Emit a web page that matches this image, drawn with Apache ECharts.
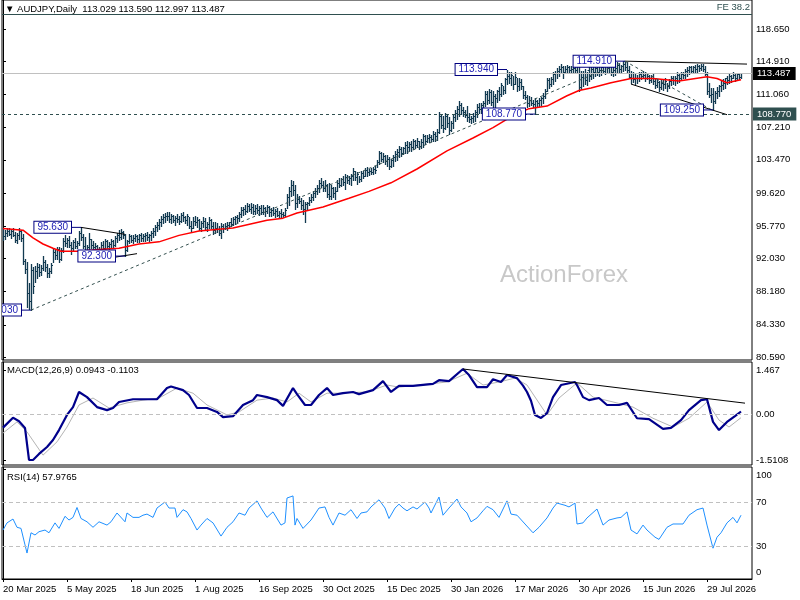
<!DOCTYPE html>
<html>
<head>
<meta charset="utf-8">
<title>AUDJPY Daily</title>
<script src="https://cdn.jsdelivr.net/npm/echarts@6.0.0/dist/echarts.min.js"></script>
<style>
  html, body { margin: 0; padding: 0; background: #fff; }
  #chart { width: 800px; height: 600px; }
</style>
</head>
<body>
<div id="chart"></div>
<script>
// daily bars, index 0 = 20 Mar 2025 (two pixels per bar in the original)
var high = [
  95.6,95.3,95.5,95.6,95.4,95.5,95.1,95.0,95.6,95.3,
  94.9,92.0,91.6,89.2,91.4,91.0,91.2,91.5,91.4,91.3,
  92.3,91.9,91.4,90.9,91.5,93.2,93.0,93.4,93.3,93.2,
  94.4,94.7,94.4,94.6,93.9,94.2,94.4,94.0,95.2,95.63,
  94.9,94.5,93.6,95.0,94.3,94.1,93.8,93.6,93.3,93.9,
  94.0,94.3,94.2,93.9,94.3,94.2,94.6,95.0,95.3,95.4,
  95.2,94.9,94.2,94.9,94.8,94.7,94.9,94.8,94.9,95.0,
  94.9,95.0,95.1,94.9,95.2,95.5,95.9,96.2,96.6,96.9,
  97.2,97.3,97.4,97.4,97.2,97.1,97.0,97.2,97.0,97.3,
  97.4,97.0,97.2,96.8,96.4,96.8,97.0,96.8,96.6,96.4,
  96.8,96.7,96.3,96.8,96.6,96.2,96.3,96.1,95.8,96.1,
  96.0,96.1,96.2,96.3,96.7,96.8,97.0,97.1,97.4,98.0,
  98.0,98.2,98.4,98.3,98.4,98.3,98.2,98.3,98.1,98.2,
  98.2,98.0,98.2,98.1,97.9,98.0,97.8,97.9,97.5,97.8,
  97.4,97.9,99.5,100.3,101.07,101.0,100.5,99.5,99.3,99.0,
  98.75,98.6,98.6,99.1,99.5,99.9,100.2,100.5,101.07,101.3,
  101.0,101.1,100.7,100.8,100.6,100.3,100.3,101.07,101.4,101.4,
  101.64,101.8,101.7,101.6,101.8,102.54,102.2,102.0,101.6,102.2,
  102.2,102.5,102.6,102.4,102.5,102.6,102.8,103.4,104.5,104.4,
  104.2,104.0,104.0,103.8,103.6,104.0,104.5,104.7,105.1,105.0,
  105.0,105.5,105.7,105.5,105.6,105.9,105.8,106.0,105.7,105.9,
  106.5,106.3,106.3,106.5,106.4,106.85,106.7,107.0,109.0,108.7,
  108.5,108.9,108.7,108.4,108.0,108.7,109.2,109.7,110.3,110.1,
  109.6,109.3,109.7,108.9,108.5,108.9,109.3,109.9,110.1,110.1,
  110.3,111.5,111.4,111.7,111.6,111.5,111.1,111.6,111.9,112.4,
  112.0,113.0,113.94,113.7,113.6,113.2,113.6,113.0,112.9,112.8,
  112.0,111.4,111.0,110.9,110.8,110.4,110.6,110.4,110.6,110.8,
  111.2,111.7,112.9,113.0,113.1,113.7,113.8,114.1,114.4,114.6,
  114.4,114.4,114.5,114.4,114.3,114.4,114.5,114.7,114.6,113.8,
  113.8,114.0,113.6,114.2,114.2,114.4,114.4,114.6,114.2,114.4,
  114.6,114.5,114.8,114.85,114.6,114.4,114.3,114.8,114.6,114.5,
  114.9,114.91,114.8,114.4,113.8,113.6,113.4,113.3,113.6,113.6,
  113.8,113.6,113.5,113.3,113.3,113.4,113.0,112.8,112.6,112.8,
  112.7,112.9,112.4,112.8,113.2,113.2,113.2,113.6,113.5,113.6,
  113.6,114.0,114.2,114.4,114.3,114.4,114.5,114.6,114.5,114.6,
  114.6,114.4,113.6,112.4,111.8,111.8,111.5,111.9,112.2,112.6,
  112.8,113.0,113.2,113.4,113.3,113.6,113.4,113.5,113.5,113.59
];
var low = [
  94.2,94.3,94.6,94.7,94.4,94.6,93.9,93.8,94.3,94.0,
  91.4,90.3,86.4,86.2,86.03,88.0,89.3,89.8,90.0,90.1,
  90.7,90.6,89.9,89.9,90.3,91.6,92.0,92.0,91.6,91.9,
  92.8,93.5,93.3,93.3,92.5,93.0,93.2,93.2,93.6,94.2,
  93.2,92.4,92.5,93.1,93.2,92.9,92.6,92.1,92.5,92.6,
  92.9,93.0,93.2,92.8,93.4,93.3,93.5,93.9,94.2,94.3,
  94.4,92.3,92.9,93.8,93.9,93.8,94.0,93.9,93.9,94.1,
  94.0,94.1,94.2,94.0,94.2,94.5,94.8,95.2,95.4,95.8,
  96.1,96.3,96.5,96.2,96.1,96.3,95.9,96.2,96.0,96.2,
  96.4,96.1,95.9,95.5,95.2,95.6,95.9,95.7,95.3,95.2,
  95.7,95.4,95.2,95.6,95.5,94.9,95.0,95.1,94.7,94.4,
  95.1,95.4,95.3,95.6,95.8,95.9,96.05,96.2,96.4,96.8,
  97.1,97.2,97.4,97.5,97.3,97.2,97.2,97.3,97.1,97.2,
  97.2,97.0,97.3,97.0,96.9,97.1,96.8,97.0,96.7,96.8,
  96.8,96.9,97.9,98.2,99.3,99.4,97.8,98.0,98.4,97.8,
  97.2,96.2,97.7,98.2,98.6,98.75,99.2,99.5,99.7,100.3,
  99.9,99.9,99.1,98.9,98.9,99.2,98.95,99.9,100.3,100.4,
  100.5,100.1,100.8,100.7,100.5,101.07,101.1,100.7,100.9,101.0,
  101.3,101.6,101.6,101.7,101.8,101.8,101.9,102.6,103.0,103.3,
  103.2,103.0,102.7,102.4,102.6,102.8,103.3,103.4,103.8,103.9,
  104.1,104.2,104.3,104.6,104.5,104.7,104.8,104.9,104.7,104.8,
  104.9,105.3,105.5,105.5,105.6,105.7,105.7,105.8,106.6,107.2,
  106.7,107.0,107.3,106.5,106.8,107.2,108.0,108.2,108.6,108.8,
  108.6,108.4,108.0,107.8,107.7,107.9,108.0,108.4,108.9,108.9,
  109.2,109.7,109.9,110.0,109.8,109.6,109.5,110.2,110.4,110.9,
  111.1,111.25,112.3,112.4,112.1,111.7,112.3,111.5,111.6,111.7,
  110.6,110.5,109.6,109.7,109.8,109.6,108.77,109.6,109.7,109.8,
  110.0,110.6,111.5,111.8,112.0,112.3,112.6,113.0,113.2,113.6,
  113.0,113.5,113.6,113.5,113.7,113.6,113.6,113.7,111.5,111.7,
  112.05,112.3,112.1,112.6,112.8,113.0,113.2,113.3,113.2,113.3,
  113.5,113.4,113.6,113.6,113.3,113.2,113.3,113.5,113.7,113.6,
  113.8,113.9,113.6,112.9,112.4,112.5,112.3,112.4,112.6,112.8,
  112.9,112.6,112.8,112.4,112.5,112.3,111.8,111.9,111.5,111.7,
  111.6,111.8,111.5,111.8,112.1,112.3,112.2,112.4,112.5,112.7,
  112.9,113.0,113.2,113.4,113.5,113.6,113.6,113.7,113.8,113.9,
  113.8,113.3,111.1,110.7,110.2,109.25,110.1,110.6,110.9,111.5,
  111.7,111.8,112.3,112.4,112.5,112.9,112.6,112.7,112.8,112.997
];
var close = [
  94.6,95.0,95.2,94.9,95.2,94.8,94.2,94.7,95.2,94.4,
  91.7,90.8,88.0,87.1,90.7,88.8,90.6,91.0,90.4,90.9,
  91.6,91.0,90.3,90.6,91.3,92.8,92.4,93.1,92.0,93.0,
  94.1,93.8,94.2,93.6,93.2,93.9,93.5,93.8,95.0,94.5,
  93.5,92.8,93.3,94.3,93.6,93.3,93.5,92.8,93.0,93.6,
  93.2,94.0,93.5,93.7,94.0,93.6,94.4,94.7,94.5,95.1,
  94.7,93.0,94.0,94.6,94.2,94.4,94.6,94.3,94.7,94.4,
  94.6,94.8,94.5,94.7,95.0,95.2,95.7,95.9,96.3,96.6,
  96.8,97.0,96.9,96.6,96.9,96.5,96.7,96.6,96.4,97.1,
  96.8,96.5,96.9,95.8,95.5,96.4,96.3,96.5,95.6,96.1,
  96.4,95.7,96.0,96.5,95.8,95.3,95.6,95.4,95.0,95.8,
  95.5,95.8,95.9,96.2,96.0,96.6,96.8,96.7,97.2,97.6,
  97.8,97.5,98.1,97.8,98.0,97.5,97.9,97.6,97.9,97.4,
  97.9,97.5,98.0,97.4,97.7,97.3,97.5,97.1,97.3,97.2,
  97.1,97.7,99.2,99.8,100.5,100.0,98.4,98.9,98.7,98.2,
  97.8,98.3,98.4,98.8,99.2,99.6,99.9,100.2,100.8,100.6,
  100.2,100.5,99.5,99.3,100.2,99.6,99.9,100.8,100.6,101.2,
  100.9,101.5,101.1,101.3,101.6,102.2,101.5,101.8,101.2,101.9,
  101.6,102.3,102.0,102.2,102.0,102.4,102.3,103.2,104.2,103.6,
  103.9,103.3,103.6,102.8,103.4,103.8,104.1,104.4,104.7,104.3,
  104.8,105.2,104.9,105.3,104.9,105.6,105.2,105.7,105.1,105.5,
  106.2,105.7,106.0,106.1,105.9,106.5,106.2,106.7,108.5,107.5,
  107.1,108.6,107.7,106.9,107.7,108.4,108.9,109.4,109.8,109.2,
  109.0,108.7,108.4,108.2,108.3,108.6,109.0,109.6,109.4,109.8,
  110.0,111.1,110.4,111.3,110.2,110.9,110.6,111.4,111.1,112.1,
  111.6,112.8,113.2,112.9,113.3,112.3,113.1,112.0,112.5,112.0,
  111.0,110.8,110.0,110.4,110.1,109.9,110.3,110.1,110.4,110.6,
  110.9,111.5,112.7,112.3,112.8,113.4,113.5,113.8,114.0,114.2,
  113.6,114.0,114.2,113.9,114.0,114.1,113.9,114.4,111.9,113.1,
  113.5,112.7,113.9,113.2,114.0,113.6,114.1,113.7,113.9,114.2,
  113.8,114.3,114.1,114.6,113.6,113.9,114.1,114.5,114.0,114.3,
  114.6,114.2,113.9,113.1,113.0,112.8,113.0,112.9,113.4,113.2,
  113.3,113.0,113.2,112.7,113.0,112.6,112.1,112.5,111.9,112.4,
  112.3,112.6,112.0,112.6,112.9,112.7,113.0,113.3,113.0,113.4,
  113.3,113.8,113.9,114.2,113.8,114.2,114.0,114.4,114.1,114.4,
  114.0,113.4,111.4,111.0,111.1,110.3,111.2,111.4,112.0,112.2,
  112.4,112.9,112.7,113.2,112.9,113.3,113.0,113.4,113.1,113.487
];

// moving average (red), read at [bar, value]
var maPoints = [[0,95.5],[10,95.3],[15,94.4],[20,93.7],[25,93.2],[29,92.85],[38,92.85],[48,93.05],[58,93.2],[68,93.7],[78,93.95],[88,94.7],[98,95.2],[115,95.55],[132,96.45],[140,96.7],[147,97.3],[160,98.0],[173,99.0],[183,99.8],[194,100.8],[207,102.4],[222,104.5],[235,106.0],[245,107.2],[255,108.6],[263,109.4],[272,109.7],[282,110.9],[288,111.5],[294,111.8],[304,112.4],[314,112.9],[325,112.9],[338,112.6],[352,113.1],[357,112.9],[362,112.4],[369,112.75]];

var macdPoints = [[0,-0.44],[5,-0.11],[8,-0.23],[11,-0.45],[13,-1.51],[15,-1.51],[18,-1.31],[22,-1.08],[25,-0.85],[28,-0.52],[32,-0.02],[35,0.24],[38,0.74],[42,0.57],[47,0.24],[52,0.14],[55,0.21],[58,0.41],[65,0.50],[77,0.50],[82,0.87],[84,0.92],[90,0.80],[93,0.64],[97,0.21],[102,0.21],[107,0.08],[110,-0.09],[115,-0.06],[120,0.31],[125,0.47],[127,0.64],[132,0.57],[137,0.47],[140,0.28],[145,0.87],[147,0.67],[151,0.31],[154,0.31],[158,0.64],[162,0.87],[165,0.64],[170,0.70],[175,0.74],[178,0.67],[185,0.80],[190,1.10],[194,0.74],[198,0.94],[205,0.94],[215,1.01],[218,1.13],[223,1.10],[230,1.50],[233,1.30],[237,0.90],[242,0.90],[245,1.16],[249,1.07],[252,1.30],[257,1.20],[260,0.95],[262,0.74],[264,0.45],[266,-0.02],[269,-0.12],[272,0.04],[275,0.57],[279,0.97],[286,1.07],[287,0.97],[290,0.57],[293,0.47],[298,0.54],[302,0.31],[308,0.31],[312,0.38],[317,-0.13],[323,-0.16],[330,-0.48],[334,-0.45],[339,-0.19],[343,0.14],[349,0.47],[352,0.50],[355,-0.25],[358,-0.52],[362,-0.25],[366,-0.06],[369,0.0943]];
var signalPoints = [[0,-0.62],[7,-0.25],[12,-0.58],[20,-1.35],[27,-0.91],[32,-0.42],[38,0.31],[45,0.54],[53,0.21],[62,0.38],[70,0.47],[78,0.54],[87,0.87],[95,0.70],[102,0.31],[112,-0.02],[118,0.08],[127,0.47],[135,0.54],[142,0.41],[148,0.70],[154,0.41],[162,0.70],[168,0.70],[182,0.74],[192,0.97],[198,0.90],[208,0.97],[222,1.07],[232,1.36],[240,0.97],[248,1.07],[256,1.20],[262,0.97],[272,-0.02],[278,0.54],[287,1.04],[295,0.57],[305,0.41],[315,0.24],[325,-0.13],[335,-0.42],[343,-0.13],[352,0.41],[358,-0.19],[363,-0.42],[369,-0.1103]];
var rsiPoints = [[0,44.5],[2,51],[5,54.5],[7,47],[9,46],[11,31],[12,23.6],[13,22],[14,42],[16,40],[18,43],[21,44.5],[23,42],[26,51],[28,46],[31,57],[33,53.6],[35,56],[37,65],[39,55],[42,52],[45,47],[48,52],[52,49],[54,52],[57,60],[58,61],[61,52],[62,60],[65,56],[68,56],[70,58],[72,59],[75,56],[77,64.5],[81,70],[83,64.5],[86,64.5],[87,56],[90,63],[92,61],[94,55],[97,44.5],[99,49],[102,55],[105,51],[109,39],[112,47],[115,52],[118,60],[121,58],[123,64.5],[127,71],[129,64.5],[132,56],[135,61],[139,49],[141,51],[142,73.6],[145,75.5],[146,49],[147,55],[150,46],[154,53.6],[158,64.5],[161,65.5],[163,56],[165,49],[168,60],[171,58],[174,63],[177,55],[179,60],[182,61],[184,65.5],[188,72],[191,64.5],[193,55],[196,64.5],[198,68],[200,64.5],[202,62],[205,65.5],[207,63.6],[211,70],[213,64.5],[214,60],[218,74.5],[220,58],[223,64.5],[227,72.7],[229,65.5],[232,60],[234,52],[237,55.5],[240,62],[242,66],[245,63],[248,56],[252,71],[254,59],[257,58],[261,50],[265,42],[268,47],[272,55.5],[275,64.5],[277,69],[281,67],[283,65.5],[286,69],[287,50],[290,51],[292,55.5],[297,63.6],[300,49],[303,53.6],[307,55.5],[309,56],[312,61],[314,44.5],[317,41],[320,49],[322,44.5],[326,38],[328,36],[332,47],[335,50],[340,50],[343,58],[347,63],[350,64.5],[352,49],[355,28],[357,38],[359,42],[362,51],[365,56],[367,51],[369,57.9765]];

var tickIdx = [0, 32, 64, 96, 128, 160, 192, 224, 256, 288, 320, 352];
var tickLabels = ['20 Mar 2025', '5 May 2025', '18 Jun 2025', '1 Aug 2025', '16 Sep 2025', '30 Oct 2025',
  '15 Dec 2025', '30 Jan 2026', '17 Mar 2026', '30 Apr 2026', '15 Jun 2026', '29 Jul 2026'];
var priceTicks = [118.65, 114.91, 111.06, 107.21, 103.47, 99.62, 95.77, 92.03, 88.18, 84.33, 80.59];
var macdTicks = [1.467, 0, -1.5108];
var rsiTicks = [100, 70, 30, 0];

// swing highs / lows with price boxes
var annIdx = [14, 39, 61, 252, 266, 311, 355];
var annPrice = [86.03, 95.63, 92.30, 113.94, 108.77, 114.91, 109.25];

var lastPrice = 113.487;
var supportLevel = 108.77;
var feLevel = 120.385;

var solidLines = [
  [[39, 95.63], [61, 94.82]],
  [[47.5, 91.85], [67, 92.58]],
  [[311, 114.91], [372, 114.57]],
  [[314, 112.25], [362, 108.7]]
];
var dashedLines = [
  [[14, 86.03], [311, 114.91]],
  [[311, 114.91], [354, 109.3]]
];
var macdTrend = [[230, 1.50], [371, 0.37]];

var FONT = 'Liberation Sans';
var BAR_COLOR = '#123a50';
var TXT = { fontFamily: FONT, fontSize: 9.5, color: '#000' };

var barData = close.map(function (c, i) { return [i, high[i], low[i], c]; });

function renderBar(params, api) {
  var hi = api.coord([api.value(0), api.value(1)]);
  var lo = api.coord([api.value(0), api.value(2)]);
  var cl = api.coord([api.value(0), api.value(3)]);
  var x = Math.round(hi[0]) + 0.5;
  var yc = Math.round(cl[1]) + 0.5;
  return {
    type: 'group',
    children: [
      { type: 'line', shape: { x1: x, y1: Math.round(hi[1]), x2: x, y2: Math.round(lo[1]) + 1 }, style: { stroke: BAR_COLOR, lineWidth: 1.3 } },
      { type: 'line', shape: { x1: x, y1: yc, x2: x + 1.5, y2: yc }, style: { stroke: BAR_COLOR, lineWidth: 1 } }
    ]
  };
}

function renderNote(params, api) {
  var p = api.coord([api.value(0), api.value(1)]);
  var bx = p[0] - 10;
  return {
    type: 'group',
    children: [
      { type: 'line', shape: { x1: bx, y1: p[1], x2: p[0], y2: p[1] }, style: { stroke: '#000080', lineWidth: 1 } },
      {
        type: 'text', x: bx, y: p[1],
        style: {
          text: api.value(1).toFixed(3), align: 'right', verticalAlign: 'middle',
          fill: '#1c1cb4', font: '10px "Liberation Sans"',
          backgroundColor: '#fff', borderColor: '#000080', borderWidth: 1, padding: [1, 3, 0, 3]
        }
      }
    ]
  };
}

var xBase = { type: 'value', min: -0.5, max: 374.5, show: false };

function priceLabel(v, bg) {
  return {
    show: true, position: 'end', distance: 1, formatter: v.toFixed(3),
    backgroundColor: bg, color: '#fff', padding: [2, 5, 1, 4], fontFamily: FONT, fontSize: 9.5
  };
}

var series = [
  {
    type: 'custom', name: 'AUDJPY', xAxisIndex: 0, yAxisIndex: 0, z: 2,
    renderItem: renderBar, encode: { x: 0, y: [1, 2] }, data: barData
  },
  {
    type: 'line', name: 'MA', xAxisIndex: 0, yAxisIndex: 0, z: 3, symbol: 'none',
    lineStyle: { color: '#ff0000', width: 1.5 }, data: maPoints,
    markLine: {
      silent: true, symbol: ['none', 'none'],
      data: [
        { yAxis: feLevel, lineStyle: { color: '#2f4f4f', type: 'solid', width: 1 },
          label: { show: true, position: 'insideEndTop', distance: 2, formatter: 'FE 38.2', color: '#2f4f4f', fontFamily: FONT, fontSize: 9.5 } },
        { yAxis: lastPrice, lineStyle: { color: '#c0c0c0', type: 'solid', width: 1 }, label: priceLabel(lastPrice, '#000') },
        { yAxis: supportLevel, lineStyle: { color: '#2f4f4f', type: [3, 3], width: 1 }, label: priceLabel(supportLevel, '#2f4f4f') }
      ]
    }
  }
];

solidLines.forEach(function (seg) {
  series.push({ type: 'line', xAxisIndex: 0, yAxisIndex: 0, z: 4, symbol: 'none', silent: true,
    lineStyle: { color: '#000', width: 1 }, data: seg });
});
dashedLines.forEach(function (seg) {
  series.push({ type: 'line', xAxisIndex: 0, yAxisIndex: 0, z: 4, symbol: 'none', silent: true,
    lineStyle: { color: '#34504f', width: 1, type: [3, 3] }, data: seg });
});

series.push({
  type: 'custom', name: 'notes', xAxisIndex: 0, yAxisIndex: 0, z: 6, clip: true,
  renderItem: renderNote, encode: { x: 0, y: 1 },
  data: annIdx.map(function (d, i) { return [d, annPrice[i]]; })
});

series.push(
  {
    type: 'line', name: 'MACD', xAxisIndex: 1, yAxisIndex: 1, symbol: 'none', z: 3,
    lineStyle: { color: '#00008b', width: 2.2 }, data: macdPoints,
    markLine: {
      silent: true, symbol: ['none', 'none'], label: { show: false },
      lineStyle: { color: '#c0c0c0', type: [4, 3], width: 1 },
      data: [{ yAxis: 0 }]
    }
  },
  {
    type: 'line', name: 'Signal', xAxisIndex: 1, yAxisIndex: 1, symbol: 'none', z: 2,
    lineStyle: { color: '#b4b4b4', width: 1 }, data: signalPoints
  },
  {
    type: 'line', xAxisIndex: 1, yAxisIndex: 1, symbol: 'none', z: 4, silent: true,
    lineStyle: { color: '#000', width: 1 }, data: macdTrend
  },
  {
    type: 'line', name: 'RSI', xAxisIndex: 2, yAxisIndex: 2, symbol: 'none',
    lineStyle: { color: '#1e90ff', width: 1 }, data: rsiPoints,
    markLine: {
      silent: true, symbol: ['none', 'none'], label: { show: false },
      lineStyle: { color: '#c0c0c0', type: [4, 3], width: 1 },
      data: [{ yAxis: 70 }, { yAxis: 30 }]
    }
  }
);

var chart = echarts.init(document.getElementById('chart'));
chart.setOption({
  animation: false,
  backgroundColor: '#fff',
  title: [
    { text: '\u25BC AUDJPY,Daily  113.029 113.590 112.997 113.487', left: 5, top: 4, padding: 0,
      textStyle: { fontFamily: FONT, fontSize: 9.5, fontWeight: 'normal', color: '#000' } },
    { text: 'MACD(12,26,9) 0.0943 -0.1103', left: 7, top: 365, padding: 0,
      textStyle: { fontFamily: FONT, fontSize: 9.5, fontWeight: 'normal', color: '#000' } },
    { text: 'RSI(14) 57.9765', left: 7, top: 472, padding: 0,
      textStyle: { fontFamily: FONT, fontSize: 9.5, fontWeight: 'normal', color: '#000' } },
    { text: 'ActionForex', left: 500, top: 263, padding: 0,
      textStyle: { fontFamily: FONT, fontSize: 24, fontWeight: 'normal', color: '#c8c8c8' } }
  ],
  grid: [
    { left: 2, right: 48, top: -1, height: 361, show: true, borderColor: '#000', borderWidth: 1 },
    { left: 2, right: 48, top: 362, height: 103, show: true, borderColor: '#000', borderWidth: 1 },
    { left: 2, right: 48, top: 467, height: 112, show: true, borderColor: '#000', borderWidth: 1 }
  ],
  xAxis: [
    Object.assign({ gridIndex: 0 }, xBase),
    Object.assign({ gridIndex: 1 }, xBase),
    {
      type: 'value', gridIndex: 2, min: -0.5, max: 374.5,
      axisLine: { show: true, lineStyle: { color: '#000' } },
      axisTick: { show: true, customValues: tickIdx, length: 3, lineStyle: { color: '#000' } },
      axisLabel: {
        customValues: tickIdx, align: 'left', margin: 5, fontFamily: FONT, fontSize: 9.5, color: '#000',
        formatter: function (v) { return tickLabels[tickIdx.indexOf(v)]; }
      },
      splitLine: { show: false }
    }
  ],
  yAxis: [
    {
      type: 'value', gridIndex: 0, position: 'right', min: 80.243, max: 122.005,
      axisLine: { show: true, lineStyle: { color: '#000' } },
      axisTick: { show: true, customValues: priceTicks, length: 3, lineStyle: { color: '#000' } },
      axisLabel: Object.assign({ customValues: priceTicks, margin: 4,
        formatter: function (v) { return v.toFixed(3); } }, TXT),
      splitLine: { show: false }
    },
    {
      type: 'value', gridIndex: 1, position: 'right', min: -1.676, max: 1.732,
      axisLine: { show: true, lineStyle: { color: '#000' } },
      axisTick: { show: true, customValues: macdTicks, length: 3, lineStyle: { color: '#000' } },
      axisLabel: Object.assign({ customValues: macdTicks, margin: 4,
        formatter: function (v) { return v === 0 ? '0.00' : String(v); } }, TXT),
      splitLine: { show: false }
    },
    {
      type: 'value', gridIndex: 2, position: 'right', min: 0, max: 101.8,
      axisLine: { show: true, lineStyle: { color: '#000' } },
      axisTick: { show: true, customValues: rsiTicks, length: 3, lineStyle: { color: '#000' } },
      axisLabel: Object.assign({ customValues: rsiTicks, margin: 4,
        formatter: function (v) {
          if (v === 100) return '{t|100}';
          if (v === 0) return '{b|0}';
          return String(v);
        },
        rich: {
          t: { fontFamily: FONT, fontSize: 9.5, color: '#000', padding: [13, 0, 0, 0] },
          b: { fontFamily: FONT, fontSize: 9.5, color: '#000', padding: [0, 0, 13, 0] }
        } }, TXT),
      splitLine: { show: false }
    }
  ],
  series: series
});
</script>
</body>
</html>
